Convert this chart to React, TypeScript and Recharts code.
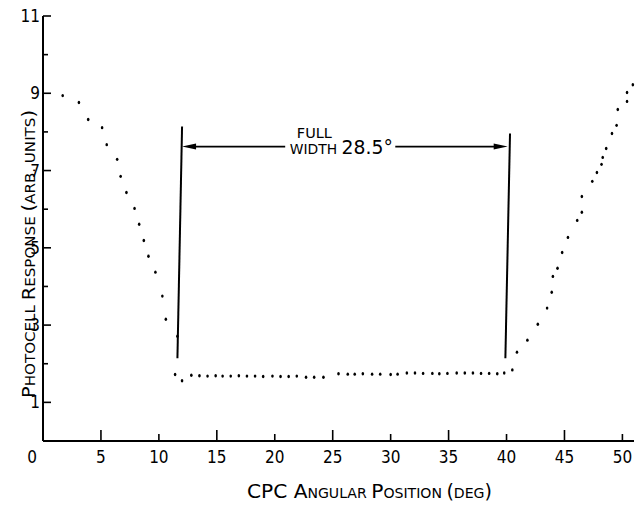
import {
  ScatterChart,
  Scatter,
  XAxis,
  YAxis,
  ReferenceLine,
  ReferenceDot,
  Label,
} from "recharts";

// descending edge, left of the acceptance band
const descentAngle = [1.7, 3.1, 3.9, 5.1, 5.5, 6.4, 6.7, 7.2, 7.9, 8.3, 8.7, 9.1, 9.7, 10.3, 10.6, 11.6];
const descentResponse = [8.94, 8.76, 8.32, 8.11, 7.67, 7.29, 6.85, 6.43, 6.02, 5.61, 5.19, 4.78, 4.37, 3.75, 3.15, 2.71];

// flat floor inside the band
const floorAngle = [
  11.4, 12.0, 12.8, 13.5, 14.2, 14.9, 15.5, 16.2, 16.9, 17.6, 18.3, 19.0, 19.8, 20.5,
  21.2, 21.9, 22.7, 23.4, 24.2, 25.5, 26.3, 26.9, 27.6, 28.4, 29.1, 30.0, 30.6, 31.4,
  32.1, 32.8, 33.6, 34.2, 34.9, 35.7, 36.4, 37.1, 37.8, 38.5, 39.2, 39.8, 40.5,
];
const floorResponse = [
  1.72, 1.56, 1.7, 1.69, 1.68, 1.69, 1.68, 1.68, 1.69, 1.68, 1.68, 1.67, 1.68, 1.67,
  1.67, 1.68, 1.65, 1.65, 1.65, 1.74, 1.73, 1.73, 1.74, 1.73, 1.73, 1.72, 1.73, 1.76,
  1.76, 1.75, 1.75, 1.74, 1.75, 1.76, 1.76, 1.76, 1.75, 1.75, 1.74, 1.76, 1.84,
];

// rising edge, right of the band
const riseAngle = [40.9, 41.8, 42.7, 43.5, 43.9, 44.0, 44.4, 44.8, 45.3, 46.1, 46.5, 46.5, 47.4, 47.8, 48.2, 48.3, 48.6, 49.1, 49.5, 49.6, 50.4, 50.4, 50.9];
const riseResponse = [2.3, 2.61, 3.02, 3.44, 3.85, 4.26, 4.47, 4.88, 5.27, 5.71, 5.92, 6.33, 6.72, 6.95, 7.16, 7.34, 7.57, 7.96, 8.17, 8.58, 8.79, 9.02, 9.22];

const xTicks = [0, 5, 10, 15, 20, 25, 30, 35, 40, 45, 50];
const yTicks = [1, 2, 3, 4, 5, 6, 7, 8, 9, 10, 11];

// full-width markers and arrows
const leftMarker = { bottom: [11.6, 2.14], top: [12.0, 8.14] };
const rightMarker = { bottom: [39.9, 2.14], top: [40.3, 7.96] };
const arrowLevel = 7.62;
const leftArrow = { tail: 20.9, tip: 12.0 };
const rightArrow = { tail: 30.4, tip: 40.1 };
const noteAngle = 21.3;

const points = [
  ...descentAngle.map((x, i) => ({ x, y: descentResponse[i] })),
  ...floorAngle.map((x, i) => ({ x, y: floorResponse[i] })),
  ...riseAngle.map((x, i) => ({ x, y: riseResponse[i] })),
];

const font = "'DejaVu Sans Condensed', 'Liberation Sans Narrow', 'DejaVu Sans', sans-serif";

function XTick(props: any) {
  const { x, y, payload } = props;
  const v = payload.value;
  const len = v % 10 === 5 ? 11 : 7;
  return (
    <g>
      {v !== 0 && (
        <line x1={x} y1={y} x2={x} y2={y - len} stroke="#000" strokeWidth={1.6} />
      )}
      <text
        x={v === 0 ? x - 11 : x}
        y={y + 22}
        textAnchor="middle"
        fontSize={17}
        fontFamily={font}
        fill="#000"
      >
        {v}
      </text>
    </g>
  );
}

function YTick(props: any) {
  const { x, y, payload } = props;
  const v = payload.value;
  const odd = v % 2 === 1;
  return (
    <g>
      <line x1={x} y1={y} x2={x + (odd ? 8 : 5)} y2={y} stroke="#000" strokeWidth={1.6} />
      {odd && (
        <text
          x={x - 3}
          y={y + 6}
          textAnchor="end"
          fontSize={17}
          fontFamily={font}
          fill="#000"
        >
          {v}
        </text>
      )}
    </g>
  );
}

function XTitle(props: any) {
  const { viewBox } = props;
  const x = viewBox.x + 204;
  const y = viewBox.y + 57;
  return (
    <text x={x} y={y} fontFamily={font} fill="#000" textLength={245} lengthAdjust="spacingAndGlyphs">
      <tspan fontSize={20}>CPC A</tspan>
      <tspan fontSize={14}>NGULAR </tspan>
      <tspan fontSize={20}>P</tspan>
      <tspan fontSize={14}>OSITION </tspan>
      <tspan fontSize={19}>(</tspan>
      <tspan fontSize={14}>DEG</tspan>
      <tspan fontSize={19}>)</tspan>
    </text>
  );
}

function YTitle(props: any) {
  const { viewBox } = props;
  const x = viewBox.x + 35;
  const y = viewBox.y + 238;
  return (
    <text
      x={x}
      y={y}
      transform={`rotate(-90, ${x}, ${y})`}
      textAnchor="middle"
      fontFamily={font}
      fill="#000"
      textLength={288}
      lengthAdjust="spacingAndGlyphs"
    >
      <tspan fontSize={18}>P</tspan>
      <tspan fontSize={14}>HOTOCELL </tspan>
      <tspan fontSize={18}>R</tspan>
      <tspan fontSize={14}>ESPONSE </tspan>
      <tspan fontSize={18}>(</tspan>
      <tspan fontSize={14}>ARB. UNITS</tspan>
      <tspan fontSize={18}>)</tspan>
    </text>
  );
}

function Arrow(props: any) {
  const { x1, y1, x2, y2 } = props;
  const dir = x2 > x1 ? 1 : -1;
  return (
    <g>
      <line x1={x1} y1={y1} x2={x2 - dir * 8} y2={y2} stroke="#000" strokeWidth={1.6} />
      <polygon
        points={`${x2},${y2} ${x2 - dir * 14},${y2 - 3} ${x2 - dir * 14},${y2 + 3}`}
        fill="#000"
      />
    </g>
  );
}

function Note(props: any) {
  const { cx, cy } = props;
  return (
    <g fontFamily={font} fill="#000">
      <text x={cx + 7} y={cy - 9} fontSize={14} textLength={35} lengthAdjust="spacingAndGlyphs">
        FULL
      </text>
      <text x={cx} y={cy + 7} textLength={103} lengthAdjust="spacingAndGlyphs">
        <tspan fontSize={14}>WIDTH </tspan>
        <tspan fontSize={19}>28.5°</tspan>
      </text>
    </g>
  );
}

function Dot(props: any) {
  const { cx, cy } = props;
  return <ellipse cx={cx} cy={cy} rx={1.3} ry={1.7} fill="#000" />;
}

export default function App() {
  return (
    <div style={{ position: "absolute", left: 0, top: 0, background: "#fff" }}>
      <ScatterChart
        width={641}
        height={506}
        margin={{ top: 16, right: 7, bottom: 0, left: 0 }}
      >
        <XAxis
          type="number"
          dataKey="x"
          domain={[0, 51]}
          ticks={xTicks}
          interval={0}
          height={65}
          tickSize={0}
          tickMargin={0}
          tickLine={false}
          tick={<XTick />}
          axisLine={{ stroke: "#000", strokeWidth: 2 }}
        >
          <Label content={<XTitle />} />
        </XAxis>
        <YAxis
          type="number"
          dataKey="y"
          domain={[0, 11]}
          ticks={yTicks}
          interval={0}
          width={43}
          tickSize={0}
          tickMargin={0}
          tickLine={false}
          tick={<YTick />}
          axisLine={{ stroke: "#000", strokeWidth: 2 }}
        >
          <Label content={<YTitle />} />
        </YAxis>

        <ReferenceLine
          segment={[
            { x: leftMarker.bottom[0], y: leftMarker.bottom[1] },
            { x: leftMarker.top[0], y: leftMarker.top[1] },
          ]}
          stroke="#000"
          strokeWidth={2}
        />
        <ReferenceLine
          segment={[
            { x: rightMarker.bottom[0], y: rightMarker.bottom[1] },
            { x: rightMarker.top[0], y: rightMarker.top[1] },
          ]}
          stroke="#000"
          strokeWidth={2}
        />
        <ReferenceLine
          segment={[
            { x: leftArrow.tail, y: arrowLevel },
            { x: leftArrow.tip, y: arrowLevel },
          ]}
          shape={Arrow}
        />
        <ReferenceLine
          segment={[
            { x: rightArrow.tail, y: arrowLevel },
            { x: rightArrow.tip, y: arrowLevel },
          ]}
          shape={Arrow}
        />
        <ReferenceDot x={noteAngle} y={arrowLevel} r={0} shape={Note} />

        <Scatter data={points} shape={Dot} isAnimationActive={false} />
      </ScatterChart>
    </div>
  );
}
